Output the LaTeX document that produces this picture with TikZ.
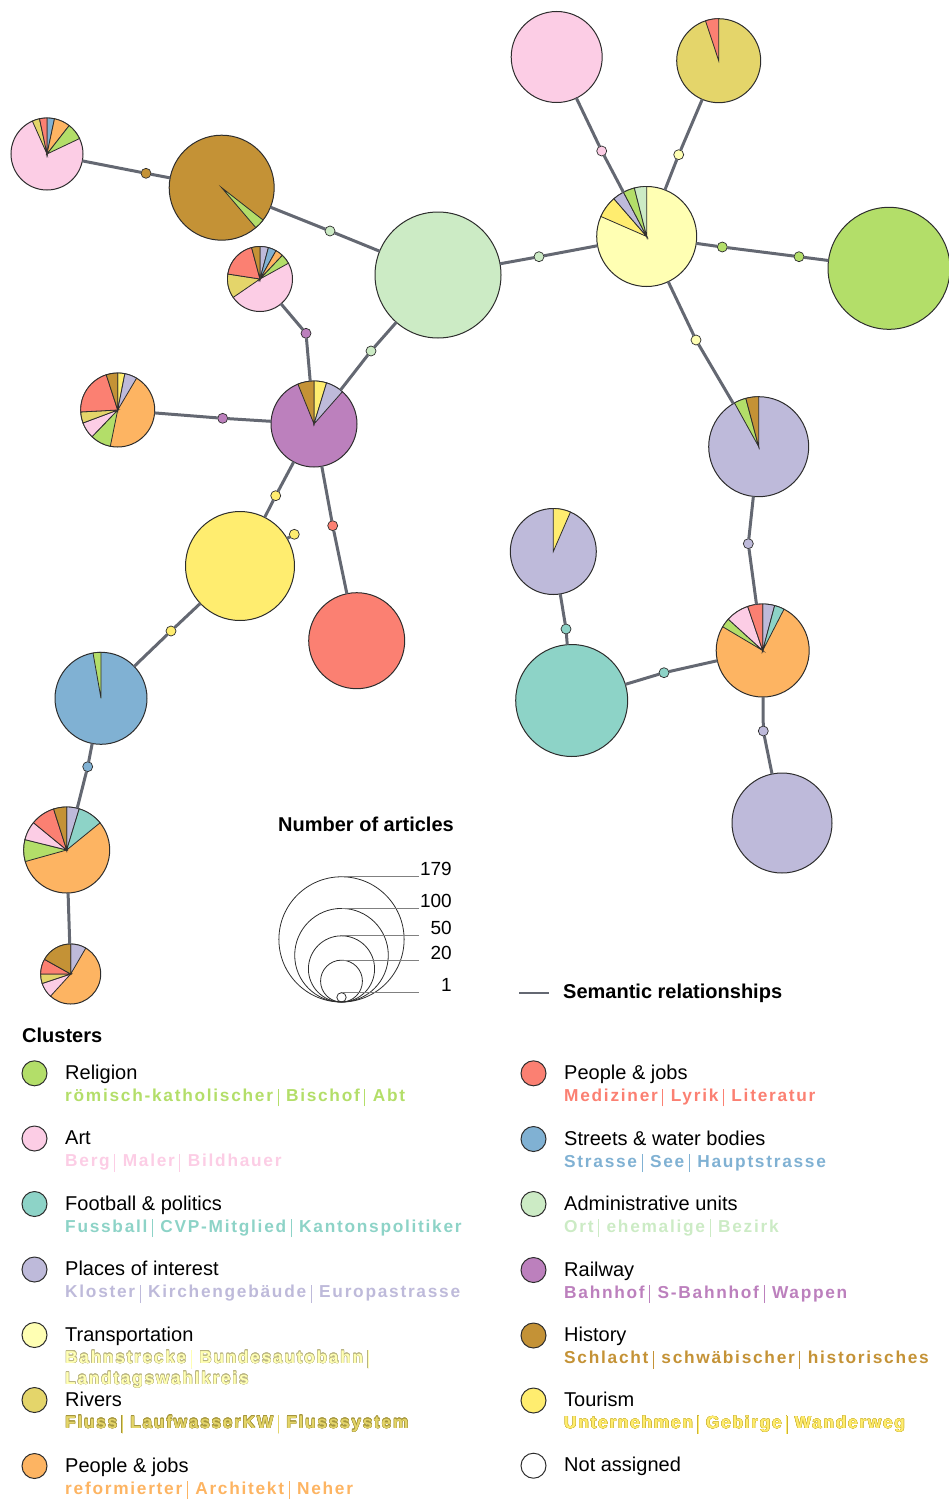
\documentclass[tikz,border=0pt]{standalone}
\usepackage{fontspec}
\setmainfont{Liberation Sans}
\newfontfamily\kwfont[LetterSpace=10]{Liberation Sans}
\usepackage{contour}
\contourlength{0.35pt}
\usetikzlibrary{calc}

\definecolor{outl}{RGB}{45,45,45}
\definecolor{relgray}{RGB}{100,104,114}
\definecolor{relig}{RGB}{179,222,105}
\definecolor{art}{RGB}{252,205,229}
\definecolor{foot}{RGB}{141,211,199}
\definecolor{place}{RGB}{190,186,218}
\definecolor{transp}{RGB}{255,255,179}
\definecolor{rivers}{RGB}{228,213,106}
\definecolor{jobsO}{RGB}{253,180,98}
\definecolor{jobsR}{RGB}{251,128,114}
\definecolor{street}{RGB}{128,177,211}
\definecolor{admin}{RGB}{204,235,197}
\definecolor{rail}{RGB}{188,128,189}
\definecolor{hist}{RGB}{196,146,54}
\definecolor{tour}{RGB}{255,237,111}
\definecolor{transpol}{RGB}{185,180,130}
\definecolor{riversol}{RGB}{165,150,60}
\definecolor{tourol}{RGB}{205,180,55}

\tikzset{
  pienode/.style={circle, draw=outl, line width=1pt, inner sep=0pt, outer sep=0pt, minimum size=#1},
  piece/.style={fill=#1, draw=outl, line width=.8pt},
  reldot/.style={circle, fill=#1, draw=outl, line width=.7pt, minimum size=10pt, inner sep=0pt, outer sep=0pt},
  rel/.style={draw=relgray, line width=3pt},
  legdot/.style={circle, fill=#1, draw=outl, line width=1pt, minimum size=25pt, inner sep=0pt},
  clname/.style={font=\fontsize{20}{24}\selectfont, inner sep=0pt},
  kwtext/.style={text=#1, font=\kwfont\bfseries\fontsize{17.3}{20.7}\selectfont, inner sep=0pt},
  headtext/.style={font=\bfseries\fontsize{20}{24}\selectfont, inner sep=0pt},
  sizecirc/.style={draw=outl, line width=.8pt},
  sizeline/.style={draw=gray, line width=.8pt},
  sizelabel/.style={font=\fontsize{19}{22}\selectfont, inner sep=0pt}
}

% wedges of a pie: node, radius, start/end/colour
\newcommand\pieslices[3]{%
  \foreach \a/\b/\c in {#3}{%
    \filldraw[piece=\c] (#1.center) -- ++(\a:#2) arc[start angle=\a, end angle=\b, radius=#2] -- cycle;}}
\newcommand\sep{\hspace{4.5pt}\rule[-5pt]{1pt}{17.7pt}\hspace{7.5pt}}

\begin{document}
\begin{tikzpicture}[x=1pt,y=-1pt]
\useasboundingbox (0,0) rectangle (948,1501);

% clusters
\node[pienode=72, fill=art] (p1) at (47,154) {};
\pieslices{p1}{36}{-90/-78/street, -78/-52/jobsO, -52/-25.4/relig, 246/258/rivers, 258/270/jobsR}
\node[pienode=105, fill=hist] (hist) at (221.7,187.7) {};
\pieslices{hist}{52.5}{38/49.5/relig}
\node[pienode=65, fill=art] (p2) at (260,279) {};
\pieslices{p2}{32.5}{-90/-75/place, -75/-60.5/street, -60.5/-46.6/jobsO, -46.6/-29/relig, 145.5/188.8/rivers, 188.8/255/jobsR, 255/270/hist}
\node[pienode=126, fill=admin] (admin) at (438,275) {};
\node[pienode=100, fill=transp] (transp) at (646.7,236.5) {};
\pieslices{transp}{50}{203.6/229/tour, 229/242.3/place, 242.3/255.7/relig, 255.7/270/admin}
\node[pienode=91, fill=art] (art) at (556.7,57) {};
\node[pienode=84, fill=rivers] (rivers) at (718.7,60.7) {};
\pieslices{rivers}{42}{251.7/270/jobsR}
\node[pienode=122, fill=relig] (relig) at (889,268.3) {};
\node[pienode=86, fill=rail] (rail) at (314,424) {};
\pieslices{rail}{43}{-90/-73/tour, -73/-48.7/place, 248/270/hist}
\node[pienode=74, fill=jobsO] (p4) at (117.7,410) {};
\pieslices{p4}{37}{-90/-78.8/tour, -78.8/-59.3/place, 101.5/133.9/relig, 133.9/159.5/art, 159.5/177/rivers, 177/252/jobsR, 252/270/hist}
\node[pienode=109, fill=tour] (tour) at (240,566) {};
\node[pienode=96, fill=jobsR] (jobs) at (356.7,640.7) {};
\node[pienode=92, fill=street] (streets) at (101,698.3) {};
\pieslices{streets}{46}{260/270/relig}
\node[pienode=86, fill=jobsO] (p5) at (66.7,850) {};
\pieslices{p5}{43}{-90/-73.1/place, -73.1/-39.2/foot, 164.4/194/relig, 194/219.4/art, 219.4/252.3/jobsR, 252.3/270/hist}
\node[pienode=60, fill=jobsO] (p6) at (70.7,974) {};
\pieslices{p6}{30}{-90/-59.8/place, 132.3/161.6/art, 161.6/180/rivers, 180/209.2/jobsR, 209.2/270/hist}
\node[pienode=100, fill=place] (place1) at (758.7,446.7) {};
\pieslices{place1}{50}{241/255.1/relig, 255.1/270/hist}
\node[pienode=86, fill=place] (place2) at (553.3,551.5) {};
\pieslices{place2}{43}{-90/-66.5/tour}
\node[pienode=112, fill=foot] (foot) at (571.7,700.5) {};
\node[pienode=93, fill=jobsO] (p7) at (762.7,650.5) {};
\pieslices{p7}{46.5}{-90/-75.1/place, -75.1/-62.7/foot, 210.7/222.3/relig, 222.3/251.2/art, 251.2/270/jobsR}
\node[pienode=100, fill=place] (place3) at (782,823) {};

% relationship dots
\node[reldot=hist] (d1) at (146,173.3) {};
\node[reldot=admin] (d2) at (330,231) {};
\node[reldot=admin] (d3) at (539,256.7) {};
\node[reldot=admin] (d4) at (371,351) {};
\node[reldot=art] (d5) at (601.7,151) {};
\node[reldot=transp] (d6) at (678.7,154.7) {};
\node[reldot=relig] (d7) at (722.3,247) {};
\node[reldot=relig] (d8) at (799,256.7) {};
\node[reldot=transp] (d9) at (696,340) {};
\node[reldot=rail] (d10) at (306,333.3) {};
\node[reldot=rail] (d11) at (222.7,418.3) {};
\node[reldot=tour] (d12) at (275.7,495.7) {};
\node[reldot=jobsR] (d13) at (332.7,525.7) {};
\node[reldot=tour] (d14) at (294.3,534.3) {};
\node[reldot=tour] (d15) at (171,631) {};
\node[reldot=street] (d16) at (87.7,766.7) {};
\node[reldot=place] (d17) at (748.3,543.7) {};
\node[reldot=foot] (d18) at (566,629) {};
\node[reldot=foot] (d19) at (664,672.7) {};
\node[reldot=place] (d20) at (763.3,731) {};

% relationships
\draw[rel] (p1) -- (d1) -- (hist);
\draw[rel] (hist) -- (d2) -- (admin);
\draw[rel] (admin) -- (d3) -- (transp);
\draw[rel] (admin) -- (d4) -- (rail);
\draw[rel] (transp) -- (d5) -- (art);
\draw[rel] (transp) -- (d6) -- (rivers);
\draw[rel] (transp) -- (d7) -- (d8) -- (relig);
\draw[rel] (transp) -- (d9) -- (place1);
\draw[rel] (p2) -- (d10) -- (rail);
\draw[rel] (p4) -- (d11) -- (rail);
\draw[rel] (rail) -- (d12) -- (tour);
\draw[rel] (rail) -- (d13) -- (jobs);
\draw[rel] (tour) -- (d14);
\draw[rel] (tour) -- (d15) -- (streets);
\draw[rel] (streets) -- (d16) -- (p5);
\draw[rel] (p5) -- (p6);
\draw[rel] (place1) -- (d17) -- (p7);
\draw[rel] (place2) -- (d18) -- (foot);
\draw[rel] (foot) -- (d19) -- (p7);
\draw[rel] (p7) -- (d20) -- (place3);

% size legend
\node[headtext, anchor=base west] (sizehead) at (278,831) {Number of articles};
\foreach \n in {179,100,50,20,1}{
  \pgfmathsetmacro\r{4.68*sqrt(\n)}
  \draw[sizecirc] (341.5,1002-\r) circle[radius=\r];
  \draw[sizeline] (341.5,1002-2*\r) -- (419,1002-2*\r);
  \node[sizelabel, anchor=base east] (sz\n) at (452,1001-2*\r) {\n};
}

% relationship legend
\coordinate (sr1) at (519,993);
\coordinate (sr2) at (549,993);
\draw[rel, line width=2.5pt] (sr1) -- (sr2);
\node[headtext, anchor=base west] (srtext) at (563,998.5) {Semantic relationships};

% cluster legend
\node[headtext, anchor=base west] (clhead) at (22,1042) {Clusters};
\foreach \x/\y/\c/\n/\k [count=\i] in {
  34.5/1073.3/relig/Religion/{römisch-katholischer\sep Bischof\sep Abt},
  34.5/1138.5/art/Art/{Berg\sep Maler\sep Bildhauer},
  34.5/1204/foot/{Football \& politics}/{Fussball\sep CVP-Mitglied\sep Kantonspolitiker},
  34.5/1269.5/place/Places of interest/{Kloster\sep Kirchengebäude\sep Europastrasse},
  34.5/1335/transp/Transportation/{\contour{transpol}{Bahnstrecke\sep Bundesautobahn\sep}},
  34.5/1400/rivers/Rivers/{\contour{riversol}{Fluss\sep LaufwasserKW\sep Flusssystem}},
  34.5/1466/jobsO/{People \& jobs}/{reformierter\sep Architekt\sep Neher},
  533.5/1073.3/jobsR/{People \& jobs}/{Mediziner\sep Lyrik\sep Literatur},
  533.5/1139/street/{Streets \& water bodies}/{Strasse\sep See\sep Hauptstrasse},
  533.5/1204/admin/Administrative units/{Ort\sep ehemalige\sep Bezirk},
  533.5/1270/rail/Railway/{Bahnhof\sep S-Bahnhof\sep Wappen},
  533.5/1335.5/hist/History/{Schlacht\sep schwäbischer\sep historisches},
  533.5/1400.5/tour/Tourism/{\contour{tourol}{Unternehmen\sep Gebirge\sep Wanderweg}},
  533.5/1465.7/white/Not assigned/{}}{
  \node[legdot=\c] (lg\i) at (\x,\y) {};
  \node[clname, anchor=base west] (ln\i) at (\x+30.5,\y+6) {\n};
  \node[kwtext=\c, anchor=base west] (lk\i) at (\x+30.5,\y+28) {\k};
}
\node[kwtext=transp, anchor=base west] (lk5b) at (65,1384) {\contour{transpol}{Landtagswahlkreis}};
\end{tikzpicture}
\end{document}
